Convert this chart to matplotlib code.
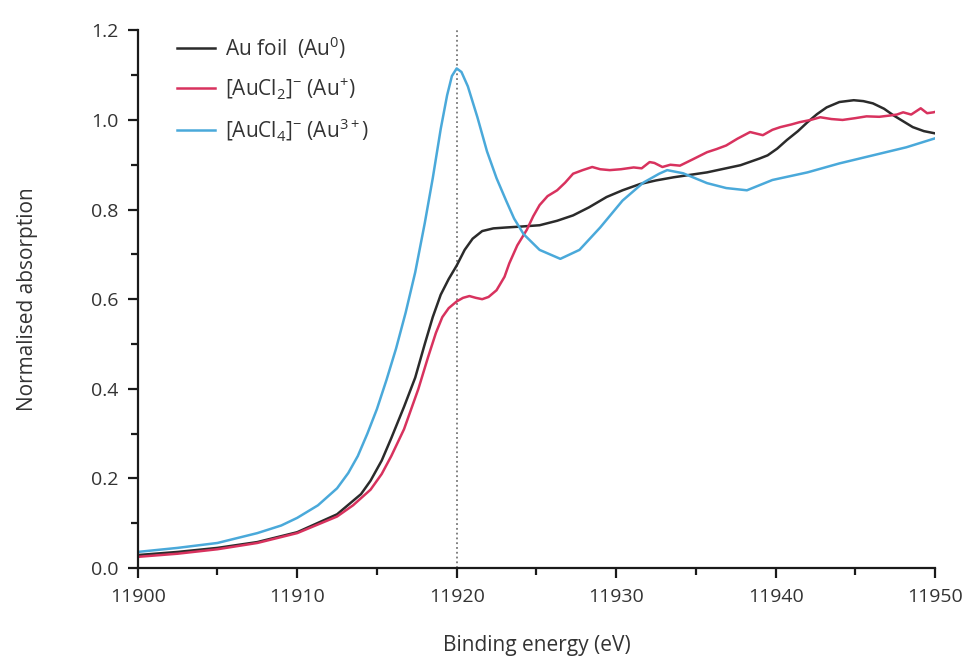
import matplotlib
matplotlib.use("Agg")
import matplotlib.pyplot as plt
from matplotlib.ticker import MultipleLocator

# DATA
e_au0 = [11900, 11902.5, 11905, 11907.5, 11910, 11912.5, 11914, 11914.6, 11915.3, 11915.9,
         11916.7, 11917.4, 11918, 11918.5, 11919, 11919.5, 11920, 11920.5, 11921, 11921.6,
         11922.3, 11923.1, 11924, 11925.2, 11926.3, 11927.3, 11928.3, 11929.4, 11930.4, 11931.5,
         11932.5, 11933.6, 11935.7, 11937.8, 11939, 11939.5, 11940.1, 11940.7, 11941.4, 11942,
         11942.6, 11943.2, 11944, 11944.9, 11945.5, 11946.1, 11946.8, 11947.4, 11948, 11948.6,
         11949.3, 11950]
y_au0 = [0.029, 0.036, 0.045, 0.058, 0.08, 0.12, 0.165, 0.195, 0.24, 0.29,
         0.36, 0.425, 0.50, 0.56, 0.61, 0.645, 0.675, 0.71, 0.735, 0.752,
         0.758, 0.76, 0.762, 0.765, 0.775, 0.787, 0.805, 0.828, 0.843, 0.857,
         0.865, 0.872, 0.883, 0.899, 0.914, 0.921, 0.936, 0.955, 0.975, 0.995,
         1.013, 1.028, 1.04, 1.044, 1.042, 1.037, 1.025, 1.01, 0.997, 0.984,
         0.975, 0.97]

e_au1 = [11900, 11902.5, 11905, 11907.5, 11910, 11912.5, 11913.5, 11914.6, 11915.3, 11915.9,
         11916.7, 11917.2, 11917.6, 11918.2, 11918.7, 11919.1, 11919.5, 11920, 11920.4, 11920.8,
         11921.2, 11921.6, 11922, 11922.5, 11923, 11923.3, 11923.8, 11924.4, 11924.8, 11925.2,
         11925.7, 11926.3, 11926.8, 11927.3, 11927.9, 11928.5, 11929, 11929.6, 11930.3, 11931.1,
         11931.6, 11932.1, 11932.4, 11932.9, 11933.4, 11934, 11934.8, 11935.7, 11936.3, 11936.9,
         11937.6, 11938.4, 11939.2, 11939.8, 11940.3, 11941, 11941.5, 11942.2, 11942.8, 11943.5,
         11944.2, 11945, 11945.7, 11946.5, 11947.2, 11947.6, 11948, 11948.5, 11949.1, 11949.5,
         11949.9, 11950]
y_au1 = [0.025, 0.032, 0.042, 0.056, 0.078, 0.115, 0.14, 0.175, 0.21, 0.25,
         0.31, 0.36, 0.40, 0.47, 0.525, 0.56, 0.58, 0.595, 0.603, 0.607,
         0.603, 0.60, 0.605, 0.62, 0.65, 0.68, 0.72, 0.755, 0.785, 0.81,
         0.83, 0.843, 0.86, 0.88, 0.888, 0.895, 0.89, 0.888, 0.89, 0.894,
         0.892, 0.906, 0.904, 0.895, 0.90, 0.898, 0.912, 0.928, 0.935, 0.943,
         0.958, 0.973, 0.966, 0.978, 0.984, 0.99, 0.995, 1.0, 1.006, 1.002,
         1.0, 1.004, 1.008, 1.007, 1.01, 1.012, 1.017, 1.012, 1.026, 1.015,
         1.017, 1.018]

e_au3 = [11900, 11902.5, 11905, 11907.5, 11909, 11910, 11911.3, 11912.5, 11913.2, 11913.8,
         11914.4, 11915, 11915.6, 11916.2, 11916.8, 11917.4, 11918, 11918.5, 11919, 11919.4,
         11919.7, 11920, 11920.3, 11920.7, 11921.3, 11921.9, 11922.5, 11923.1, 11923.6, 11924.2,
         11925.2, 11926.5, 11927.7, 11929, 11930.4, 11931.7, 11932.7, 11933.2, 11934.2, 11935.7,
         11936.9, 11938.2, 11939.8, 11942, 11944, 11946.1, 11948.2, 11950]
y_au3 = [0.036, 0.045, 0.056, 0.078, 0.095, 0.112, 0.14, 0.178, 0.212, 0.25,
         0.30, 0.355, 0.42, 0.49, 0.57, 0.66, 0.77, 0.87, 0.98, 1.055,
         1.098, 1.115, 1.107, 1.075, 1.006, 0.93, 0.87, 0.82, 0.78, 0.745,
         0.71, 0.69, 0.71, 0.76, 0.82, 0.86, 0.88, 0.888, 0.881, 0.859,
         0.848, 0.843, 0.866, 0.883, 0.903, 0.921, 0.939, 0.959]

labels = [r"Au foil  (Au$^{0}$)",
          r"[AuCl$_{2}$]$^{-}$ (Au$^{+}$)",
          r"[AuCl$_{4}$]$^{-}$ (Au$^{3+}$)"]
colors = ["#2b2b2b", "#d8325e", "#4aa9da"]

plt.rcParams["font.family"] = ["Open Sans", "DejaVu Sans"]
plt.rcParams["mathtext.fontset"] = "custom"
plt.rcParams["mathtext.rm"] = "Open Sans"
plt.rcParams["mathtext.it"] = "Open Sans"

fig = plt.figure(figsize=(9.7, 6.59), dpi=100)
ax = fig.add_axes([0.142, 0.138, 0.822, 0.816])

ax.axvline(11920, color="#777777", linestyle=":", linewidth=1.3, zorder=1)
ax.plot(e_au0, y_au0, color=colors[0], linewidth=1.8, label=labels[0])
ax.plot(e_au1, y_au1, color=colors[1], linewidth=1.8, label=labels[1])
ax.plot(e_au3, y_au3, color=colors[2], linewidth=1.8, label=labels[2])

ax.set_xlim(11900, 11950)
ax.set_ylim(0, 1.2)
ax.xaxis.set_major_locator(MultipleLocator(10))
ax.xaxis.set_minor_locator(MultipleLocator(5))
ax.yaxis.set_major_locator(MultipleLocator(0.2))
ax.yaxis.set_minor_locator(MultipleLocator(0.1))
ax.yaxis.set_major_formatter(matplotlib.ticker.FormatStrFormatter("%.1f"))

for s in ["top", "right"]:
    ax.spines[s].set_visible(False)
for s in ["left", "bottom"]:
    ax.spines[s].set_linewidth(1.6)
    ax.spines[s].set_color("#1a1a1a")

ax.tick_params(which="major", direction="out", length=7, width=1.6, color="#1a1a1a",
               labelsize=14, labelcolor="#333333", pad=7)
ax.tick_params(which="minor", direction="out", length=5, width=1.6, color="#1a1a1a")

ax.set_xlabel("Binding energy (eV)", fontsize=15, color="#333333", labelpad=21)
ax.set_ylabel("Normalised absorption", fontsize=15, color="#333333", labelpad=38)

leg = ax.legend(loc="upper left", bbox_to_anchor=(0.026, 1.028), frameon=False,
                fontsize=15, handlelength=1.8, handletextpad=0.5, labelspacing=0.75,
                labelcolor="#333333")

fig.savefig("out.png", dpi=100)
